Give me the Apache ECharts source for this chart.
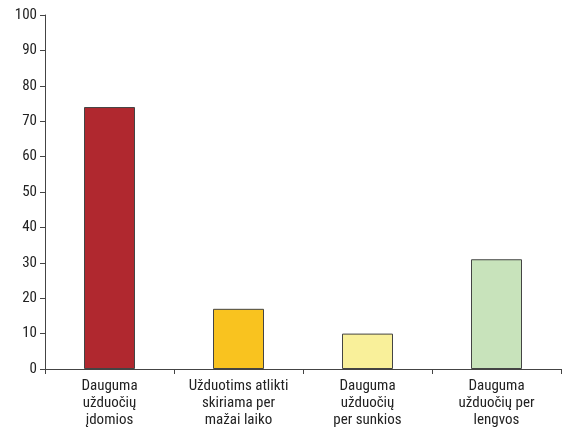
<!DOCTYPE html>
<html><head><meta charset="utf-8">
<script src="https://cdn.jsdelivr.net/npm/echarts@6/dist/echarts.min.js"></script>
<style>html,body{margin:0;padding:0;background:#fff}#c{width:566px;height:430px}</style>
</head><body><div id="c"></div>
<script>
const categories = ["Dauguma\nužduočių\nįdomios", "Užduotims atlikti\nskiriama per\nmažai laiko", "Dauguma\nužduočių\nper sunkios", "Dauguma\nužduočių per\nlengvos"];
const values = [74, 17, 10, 31];
const colors = ["#b0282f", "#f9c31f", "#f9f09a", "#c8e3bb"];
const font = "'Liberation Sans Narrow', 'Roboto Condensed', sans-serif";
const chart = echarts.init(document.getElementById('c'));
chart.setOption({
  animation: false,
  grid: {left: 45, right: 5, top: 15, bottom: 61},
  xAxis: {
    type: 'category', data: categories,
    axisLine: {lineStyle: {color: '#444', width: 1}},
    axisTick: {show: true, interval: 0, length: 5, lineStyle: {color: '#444'}},
    axisLabel: {interval: 0, color: '#222', fontFamily: font, fontSize: 15, lineHeight: 17, margin: 9}
  },
  yAxis: {
    type: 'value', min: 0, max: 100, interval: 10,
    splitLine: {show: false},
    axisLine: {show: true, lineStyle: {color: '#444', width: 1}},
    axisTick: {show: true, length: 5, lineStyle: {color: '#444'}},
    axisLabel: {color: '#222', fontFamily: font, fontSize: 15, margin: 8}
  },
  series: [{
    type: 'bar', barWidth: 51,
    data: values.map((v, i) => ({value: v, itemStyle: {color: colors[i]}})),
    itemStyle: {borderColor: '#444', borderWidth: 1}
  }]
});
</script></body></html>
